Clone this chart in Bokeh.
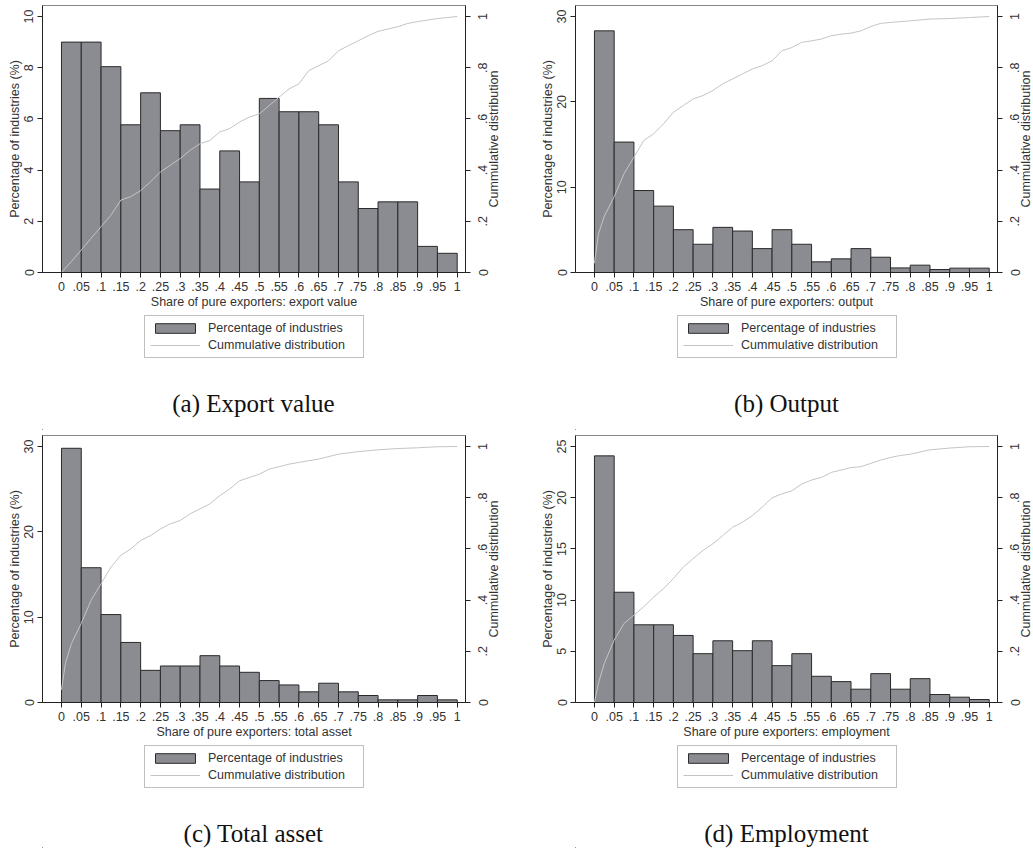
from bokeh.plotting import figure
from bokeh.models import Range1d, LinearAxis, FixedTicker, Legend, LegendItem, Label
from bokeh.layouts import column, row
from bokeh.embed import file_html
from bokeh.resources import INLINE
import math

# ---------------- data ----------------
BIN_LEFT = [0.0, 0.05, 0.10, 0.15, 0.20, 0.25, 0.30, 0.35, 0.40, 0.45,
            0.50, 0.55, 0.60, 0.65, 0.70, 0.75, 0.80, 0.85, 0.90, 0.95]
BIN_WIDTH = 0.05

X_TICKS = [0, 0.05, 0.1, 0.15, 0.2, 0.25, 0.3, 0.35, 0.4, 0.45, 0.5,
           0.55, 0.6, 0.65, 0.7, 0.75, 0.8, 0.85, 0.9, 0.95, 1]
X_TICK_LABELS = ["0", ".05", ".1", ".15", ".2", ".25", ".3", ".35", ".4", ".45", ".5",
                 ".55", ".6", ".65", ".7", ".75", ".8", ".85", ".9", ".95", "1"]
CDF_TICKS = [0, 0.2, 0.4, 0.6, 0.8, 1]
CDF_TICK_LABELS = ["0", ".2", ".4", ".6", ".8", "1"]

# (a) Export value
EXPORT_PCT = [9.0, 9.0, 8.04, 5.77, 7.02, 5.54, 5.77, 3.26, 4.75, 3.54,
              6.80, 6.28, 6.28, 5.77, 3.54, 2.50, 2.76, 2.76, 1.02, 0.75]
EXPORT_CDF_X = [0, 0.025, 0.05, 0.075, 0.1, 0.125, 0.15, 0.175, 0.2, 0.225, 0.25, 0.275,
                0.3, 0.325, 0.35, 0.375, 0.4, 0.425, 0.45, 0.475, 0.5, 0.525, 0.55, 0.575,
                0.6, 0.625, 0.65, 0.675, 0.7, 0.725, 0.75, 0.775, 0.8, 0.825, 0.85, 0.875,
                0.9, 0.925, 0.95, 0.975, 1]
EXPORT_CDF_Y = [0, 0.043, 0.088, 0.134, 0.179, 0.224, 0.283, 0.296, 0.32, 0.354, 0.393, 0.419,
                0.445, 0.477, 0.503, 0.516, 0.549, 0.562, 0.588, 0.607, 0.62, 0.652, 0.685, 0.717,
                0.737, 0.789, 0.808, 0.827, 0.866, 0.886, 0.905, 0.925, 0.942, 0.951, 0.96, 0.973,
                0.98, 0.986, 0.992, 0.996, 1.0]

# (b) Output
OUTPUT_PCT = [28.33, 15.29, 9.61, 7.78, 5.02, 3.31, 5.29, 4.86, 2.80, 5.02,
              3.31, 1.25, 1.60, 2.80, 1.79, 0.54, 0.86, 0.35, 0.51, 0.51]
OUTPUT_CDF_X = [0, 0.01, 0.025, 0.05, 0.075, 0.1, 0.125, 0.15, 0.175, 0.2, 0.225, 0.25, 0.275,
                0.3, 0.325, 0.35, 0.375, 0.4, 0.425, 0.45, 0.475, 0.5, 0.525, 0.55, 0.575,
                0.6, 0.625, 0.65, 0.675, 0.7, 0.725, 0.75, 0.8, 0.85, 0.9, 0.95, 1]
OUTPUT_CDF_Y = [0.036, 0.15, 0.22, 0.296, 0.386, 0.45, 0.516, 0.542, 0.581, 0.626, 0.652, 0.678, 0.691,
                0.711, 0.737, 0.756, 0.776, 0.795, 0.808, 0.827, 0.866, 0.879, 0.899, 0.905, 0.912,
                0.925, 0.931, 0.935, 0.944, 0.961, 0.973, 0.977, 0.983, 0.99, 0.992, 0.996, 1.0]

# (c) Total asset
ASSET_PCT = [29.8, 15.8, 10.31, 7.04, 3.77, 4.28, 4.28, 5.49, 4.28, 3.54,
             2.57, 2.06, 1.25, 2.26, 1.25, 0.82, 0.31, 0.31, 0.82, 0.31]
ASSET_CDF_X = [0, 0.01, 0.025, 0.05, 0.075, 0.1, 0.125, 0.15, 0.175, 0.2, 0.225, 0.25, 0.275,
               0.3, 0.325, 0.35, 0.375, 0.4, 0.425, 0.45, 0.475, 0.5, 0.525, 0.55, 0.575,
               0.6, 0.65, 0.7, 0.75, 0.8, 0.85, 0.9, 0.95, 1]
ASSET_CDF_Y = [0.05, 0.153, 0.23, 0.309, 0.40, 0.464, 0.529, 0.575, 0.60, 0.633, 0.652, 0.678, 0.698,
               0.711, 0.737, 0.756, 0.776, 0.808, 0.834, 0.866, 0.879, 0.892, 0.912, 0.921, 0.931,
               0.938, 0.951, 0.97, 0.98, 0.987, 0.992, 0.995, 0.999, 1.0]

# (d) Employment
EMPLOY_PCT = [24.09, 10.77, 7.59, 7.59, 6.55, 4.77, 6.03, 5.06, 6.03, 3.60,
              4.77, 2.56, 2.04, 1.30, 2.82, 1.30, 2.33, 0.78, 0.52, 0.29]
EMPLOY_CDF_X = [0, 0.01, 0.025, 0.05, 0.075, 0.1, 0.125, 0.15, 0.175, 0.2, 0.225, 0.25, 0.275,
                0.3, 0.325, 0.35, 0.375, 0.4, 0.425, 0.45, 0.475, 0.5, 0.525, 0.55, 0.575,
                0.6, 0.625, 0.65, 0.675, 0.7, 0.725, 0.75, 0.775, 0.8, 0.85, 0.9, 0.95, 1]
EMPLOY_CDF_Y = [0, 0.075, 0.153, 0.244, 0.309, 0.341, 0.374, 0.412, 0.445, 0.484, 0.529, 0.562, 0.594,
                0.62, 0.652, 0.685, 0.704, 0.73, 0.763, 0.80, 0.815, 0.827, 0.853, 0.869, 0.879,
                0.899, 0.908, 0.918, 0.921, 0.934, 0.947, 0.957, 0.965, 0.97, 0.987, 0.994, 0.999, 1.0]

Y_TICKS_A = [0, 2, 4, 6, 8, 10]
Y_TICKS_B = [0, 10, 20, 30]
Y_TICKS_C = [0, 10, 20, 30]
Y_TICKS_D = [0, 5, 10, 15, 20, 25]

LEGEND_LABELS = ["Percentage of industries", "Cummulative distribution"]
Y_TITLE = "Percentage of industries (%)"
Y2_TITLE = "Cummulative distribution"

# ---------------- styling ----------------
SANS = "Liberation Sans"
SERIF = "Liberation Serif"
TXT = "#333333"
FS = "12.5px"
BAR_FILL = "#8b8c91"
BAR_LINE = "#2a2a2a"
CDF_COLOR = "#c4c4c4"
UP = math.pi / 2
CDF_MAX = 1.043

TOP_B = 5
FRAME_H = 267
AXIS_B = 40
CHART_H = TOP_B + FRAME_H + AXIS_B          # 312
H1, H2 = 430, 418                            # row heights (total 848)

# column geometry
#   width: whole column, left: left border, fw: frame width, right: tick border of chart,
#   rw: width of the strip holding the upward-reading right-axis labels
COL_A = dict(width=515, left=42, fw=423, right=8, rw=42, x0=-0.048, x1=1.021, lx=102, cx=211)
COL_B = dict(width=518, left=60, fw=422, right=8, rw=28, x0=-0.048, x1=1.021, lx=102, cx=211)
STRIP_LABEL_B = 14     # room in the strip for the tick labels


def style_axis(ax, label_standoff=4, title_standoff=1):
    ax.major_tick_out = 5
    ax.major_tick_in = 0
    ax.minor_tick_out = 0
    ax.minor_tick_in = 0
    ax.axis_line_color = "#222222"
    ax.major_tick_line_color = "#222222"
    ax.major_label_text_font = SANS
    ax.major_label_text_font_size = FS
    ax.major_label_text_color = TXT
    ax.axis_label_text_font = SANS
    ax.axis_label_text_font_size = FS
    ax.axis_label_text_font_style = "normal"
    ax.axis_label_text_color = TXT
    ax.major_label_standoff = label_standoff
    ax.axis_label_standoff = title_standoff


def make_chart(pct, cdf_x, cdf_y, y_ticks, y_max, xlabel, col):
    p = figure(width=col["left"] + col["fw"] + col["right"], height=CHART_H, title=None,
               x_range=Range1d(col["x0"], col["x1"]), y_range=Range1d(0, y_max),
               output_backend="svg", toolbar_location=None,
               min_border_left=col["left"], min_border_right=col["right"],
               min_border_top=TOP_B, min_border_bottom=AXIS_B,
               background_fill_color="white", border_fill_color="white")
    p.xgrid.visible = False
    p.ygrid.visible = False
    p.outline_line_color = "#888888"
    p.outline_line_width = 1

    centers = [b + BIN_WIDTH / 2 for b in BIN_LEFT]
    p.vbar(x=centers, top=pct, bottom=0, width=BIN_WIDTH,
           fill_color=BAR_FILL, line_color=BAR_LINE, line_width=1)

    p.extra_y_ranges = {"cdf": Range1d(0, CDF_MAX)}
    p.line(cdf_x, cdf_y, y_range_name="cdf", line_color=CDF_COLOR, line_width=1)

    xa = p.xaxis[0]
    xa.ticker = FixedTicker(ticks=X_TICKS)
    xa.major_label_overrides = dict(zip(X_TICKS, X_TICK_LABELS))
    xa.axis_label = xlabel
    style_axis(xa, 4, 1)

    ya = p.yaxis[0]
    ya.ticker = FixedTicker(ticks=y_ticks)
    ya.axis_label = Y_TITLE
    style_axis(ya, 4, 0)
    ya.major_label_orientation = "vertical"

    # right axis: line and ticks only; its labels sit in the strip next to it
    ra = LinearAxis(y_range_name="cdf", ticker=FixedTicker(ticks=CDF_TICKS))
    style_axis(ra, 0, 0)
    ra.major_label_text_font_size = "0px"
    ra.major_label_text_color = None
    p.add_layout(ra, "right")
    return p


def make_strip(col):
    """Narrow figure to the right of a chart: the cumulative-distribution axis
    labels and title, reading bottom-to-top as in the original."""
    rw = col["rw"]
    fwid = rw - STRIP_LABEL_B
    s = figure(width=rw, height=CHART_H, title=None,
               x_range=Range1d(0, fwid), y_range=Range1d(0, CDF_MAX),
               x_axis_type=None, output_backend="svg", toolbar_location=None,
               min_border_left=STRIP_LABEL_B, min_border_right=0,
               min_border_top=TOP_B, min_border_bottom=AXIS_B,
               background_fill_color="white", border_fill_color="white")
    s.outline_line_color = None
    s.grid.visible = False
    ax = s.yaxis[0]
    ax.ticker = FixedTicker(ticks=CDF_TICKS)
    ax.major_label_overrides = dict(zip(CDF_TICKS, CDF_TICK_LABELS))
    ax.major_label_orientation = "vertical"
    ax.major_label_standoff = 0
    ax.major_tick_out = 0
    ax.major_tick_in = 0
    ax.minor_tick_out = 0
    ax.minor_tick_in = 0
    ax.axis_line_color = None
    ax.major_tick_line_color = None
    ax.minor_tick_line_color = None
    ax.major_label_text_font = SANS
    ax.major_label_text_font_size = FS
    ax.major_label_text_color = TXT
    s.add_layout(Label(x=6, y=CDF_MAX / 2, text=Y2_TITLE, angle=UP,
                       text_align="center", text_baseline="middle",
                       text_font=SANS, text_font_size=FS, text_color=TXT))
    return s


def make_legend_fig(caption, col, height):
    fw = col["fw"]
    q = figure(width=col["width"], height=height, title=None,
               x_range=Range1d(0, fw), y_range=Range1d(0, height),
               x_axis_type=None, y_axis_type=None,
               output_backend="svg", toolbar_location=None,
               min_border_left=col["left"], min_border_right=col["width"] - col["left"] - fw,
               min_border_top=0, min_border_bottom=0,
               background_fill_color="white", border_fill_color="white")
    q.outline_line_color = None
    q.grid.visible = False
    # off-frame placeholder renderers, used only for the legend swatches
    r_bar = q.vbar(x=[-10000], top=[1], bottom=[0], width=1,
                   fill_color=BAR_FILL, line_color=BAR_LINE, line_width=1)
    r_line = q.line(x=[-10000, -9999], y=[0, 1], line_color=CDF_COLOR, line_width=1)
    legend = Legend(items=[LegendItem(label=LEGEND_LABELS[0], renderers=[r_bar]),
                           LegendItem(label=LEGEND_LABELS[1], renderers=[r_line])],
                    location=(col["lx"], height - 46), orientation="vertical",
                    glyph_width=50, glyph_height=12, label_standoff=8,
                    label_height=14, label_width=150,
                    label_text_font=SANS, label_text_font_size=FS, label_text_color=TXT,
                    padding=5, spacing=3, margin=0,
                    border_line_color="#808080", border_line_width=1,
                    background_fill_color="white", background_fill_alpha=1)
    q.add_layout(legend, "center")
    q.add_layout(Label(x=col["cx"], y=height - 91, text=caption, text_align="center",
                       text_baseline="middle", text_font=SERIF, text_font_size="25px",
                       text_color="#111111"))
    return q


def panel(pct, cdf_x, cdf_y, y_ticks, y_max, xlabel, caption, col, height):
    chart = make_chart(pct, cdf_x, cdf_y, y_ticks, y_max, xlabel, col)
    strip = make_strip(col)
    leg = make_legend_fig(caption, col, height - CHART_H)
    return column(row(chart, strip), leg)


pa = panel(EXPORT_PCT, EXPORT_CDF_X, EXPORT_CDF_Y, Y_TICKS_A, 10.43,
           "Share of pure exporters: export value", "(a) Export value", COL_A, H1)
pb = panel(OUTPUT_PCT, OUTPUT_CDF_X, OUTPUT_CDF_Y, Y_TICKS_B, 31.3,
           "Share of pure exporters: output", "(b) Output", COL_B, H1)
pc = panel(ASSET_PCT, ASSET_CDF_X, ASSET_CDF_Y, Y_TICKS_C, 31.3,
           "Share of pure exporters: total asset", "(c) Total asset", COL_A, H2)
pd = panel(EMPLOY_PCT, EMPLOY_CDF_X, EMPLOY_CDF_Y, Y_TICKS_D, 26.08,
           "Share of pure exporters: employment", "(d) Employment", COL_B, H2)

layout = column(row(pa, pb), row(pc, pd))

open("out.html", "w").write(file_html(layout, INLINE))
